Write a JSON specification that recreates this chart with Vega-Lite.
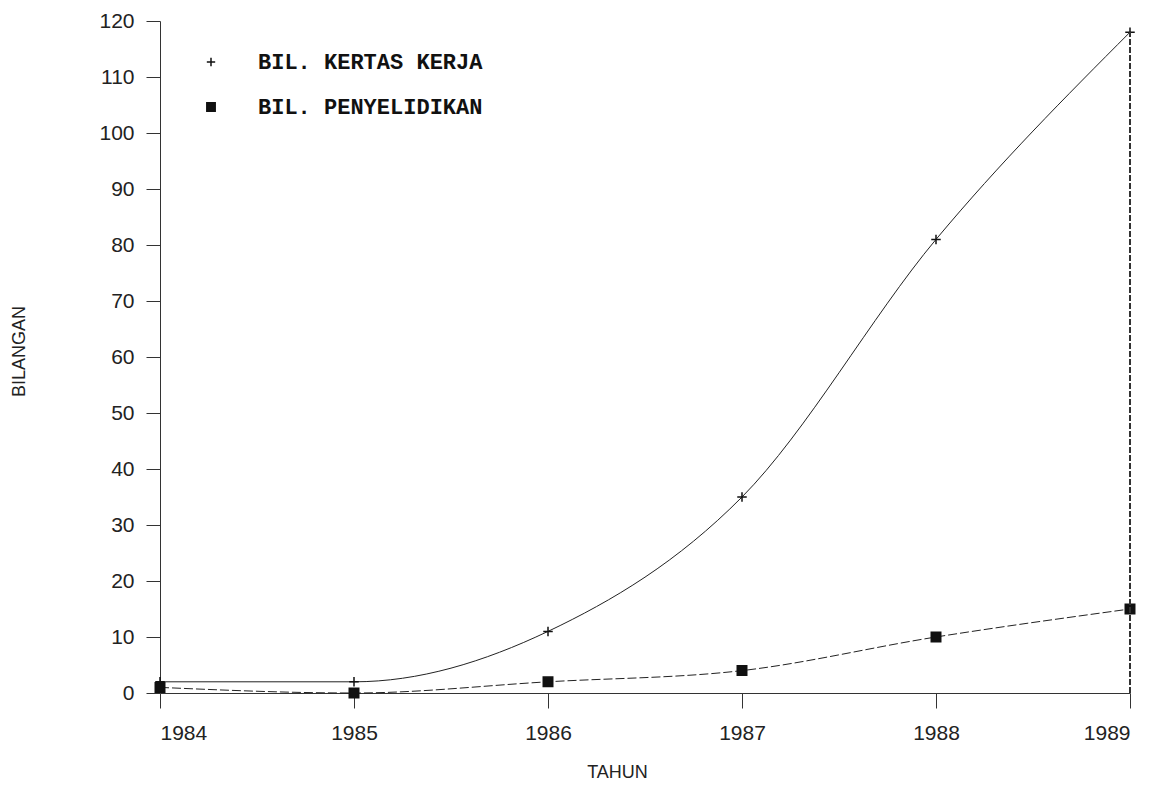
{
  "$schema": "https://vega.github.io/schema/vega-lite/v6.json",
  "width": 970,
  "height": 672,
  "autosize": {"type": "none"},
  "padding": {"left": 160, "top": 21, "right": 38, "bottom": 94},
  "background": "white",
  "config": {
    "view": {"stroke": null},
    "font": "Liberation Sans",
    "axis": {
      "domainColor": "#333",
      "domainWidth": 1,
      "tickColor": "#333",
      "tickWidth": 1,
      "labelColor": "#222",
      "labelFont": "Liberation Sans",
      "labelFontSize": 21,
      "titleFont": "Liberation Sans",
      "titleFontSize": 18,
      "titleFontWeight": "normal",
      "titleColor": "#222",
      "grid": false
    },
    "legend": {
      "labelFont": "Liberation Mono",
      "labelFontWeight": "bold",
      "labelFontSize": 22,
      "labelColor": "#111",
      "labelLimit": 0
    }
  },
  "data": {
    "values": [
      {"tahun": 1984, "siri": "BIL. KERTAS KERJA", "bilangan": 2},
      {"tahun": 1985, "siri": "BIL. KERTAS KERJA", "bilangan": 2},
      {"tahun": 1986, "siri": "BIL. KERTAS KERJA", "bilangan": 11},
      {"tahun": 1987, "siri": "BIL. KERTAS KERJA", "bilangan": 35},
      {"tahun": 1988, "siri": "BIL. KERTAS KERJA", "bilangan": 81},
      {"tahun": 1989, "siri": "BIL. KERTAS KERJA", "bilangan": 118},
      {"tahun": 1984, "siri": "BIL. PENYELIDIKAN", "bilangan": 1},
      {"tahun": 1985, "siri": "BIL. PENYELIDIKAN", "bilangan": 0},
      {"tahun": 1986, "siri": "BIL. PENYELIDIKAN", "bilangan": 2},
      {"tahun": 1987, "siri": "BIL. PENYELIDIKAN", "bilangan": 4},
      {"tahun": 1988, "siri": "BIL. PENYELIDIKAN", "bilangan": 10},
      {"tahun": 1989, "siri": "BIL. PENYELIDIKAN", "bilangan": 15}
    ]
  },
  "encoding": {
    "x": {
      "field": "tahun",
      "type": "quantitative",
      "scale": {"domain": [1984, 1989], "nice": false, "zero": false},
      "axis": {
        "values": [1984, 1985, 1986, 1987, 1988, 1989],
        "format": "d",
        "tickSize": 15,
        "labelPadding": 14,
        "title": "TAHUN",
        "titleX": 457,
        "titleY": 70
      }
    },
    "y": {
      "field": "bilangan",
      "type": "quantitative",
      "scale": {"domain": [0, 120], "nice": false},
      "axis": {
        "values": [0, 10, 20, 30, 40, 50, 60, 70, 80, 90, 100, 110, 120],
        "tickSize": 14,
        "labelPadding": 12,
        "title": "BILANGAN",
        "titleX": -132,
        "titleY": 330
      }
    }
  },
  "layer": [
    {
      "transform": [{"filter": "datum.siri === 'BIL. KERTAS KERJA'"}],
      "mark": {"type": "line", "color": "#222", "strokeWidth": 1, "interpolate": "monotone"},
      "encoding": {}
    },
    {
      "transform": [{"filter": "datum.siri === 'BIL. PENYELIDIKAN'"}],
      "mark": {"type": "line", "color": "#222", "strokeWidth": 1, "strokeDash": [9, 3], "interpolate": "monotone"},
      "encoding": {}
    },
    {
      "mark": {"type": "point", "filled": true, "fill": "#111", "stroke": "#111", "strokeWidth": 1.5, "size": 90, "opacity": 1},
      "encoding": {
        "shape": {
          "field": "siri",
          "type": "nominal",
          "scale": {"domain": ["BIL. KERTAS KERJA", "BIL. PENYELIDIKAN"], "range": ["M-1,0L1,0M0,-1L0,1", "square"]},
          "legend": {
            "title": null,
            "orient": "none",
            "legendX": 40,
            "legendY": 30,
            "symbolSize": 70,
            "labelOffset": 36,
            "rowPadding": 23,
            "labelLimit": 0,
            "encode": {
              "symbols": {
                "update": {
                  "fill": {"value": "#111"},
                  "stroke": {"value": "#111"},
                  "strokeWidth": {"value": 1.5},
                  "opacity": {"value": 1}
                }
              }
            }
          }
        }
      }
    },
    {
      "mark": {"type": "rule", "color": "#333", "strokeWidth": 1, "strokeDash": [6, 2]},
      "encoding": {
        "x": {"datum": 1989},
        "y": {"datum": 0},
        "y2": {"datum": 118}
      }
    }
  ]
}
